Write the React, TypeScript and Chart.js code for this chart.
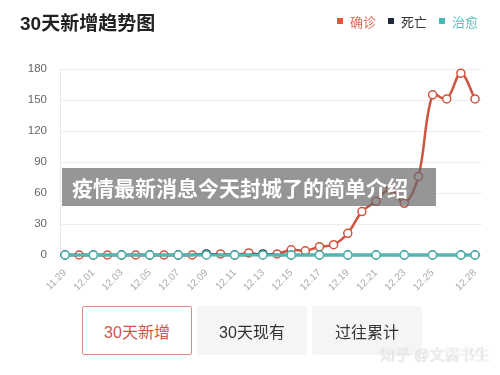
import React, { useEffect, useRef } from 'react';
import { Chart, registerables } from 'chart.js';

Chart.register(...registerables);

const dates = [
  '11.29', '11.30', '12.01', '12.02', '12.03', '12.04', '12.05', '12.06', '12.07', '12.08',
  '12.09', '12.10', '12.11', '12.12', '12.13', '12.14', '12.15', '12.16', '12.17', '12.18',
  '12.19', '12.20', '12.21', '12.22', '12.23', '12.24', '12.25', '12.26', '12.27', '12.28',
];
const shownDates = ['11.29', '12.01', '12.03', '12.05', '12.07', '12.09', '12.11', '12.13', '12.15', '12.17', '12.19', '12.21', '12.23', '12.25', '12.28'];
const confirmed = [0, 0, 0, 0, 0, 0, 0, 0, 0, 0, 0, 1, 0, 2, 0, 1, 5, 4, 8, 10, 21, 42, 52, 64, 50, 76, 155, 151, 176, 151];
const deaths = [0, 0, 0, 0, 0, 0, 0, 0, 0, 0, 1, 0, 0, 0, 1, 0, 0, 0, 0, 0, 0, 0, 0, 0, 0, 0, 0, 0, 0, 0];
const cured = [0, 0, 0, 0, 0, 0, 0, 0, 0, 0, 0, 0, 0, 0, 0, 0, 0, 0, 0, 0, 0, 0, 0, 0, 0, 0, 0, 0, 0, 0];
const yTicks = [0, 30, 60, 90, 120, 150, 180];
const legendItems = [
  { name: '确诊', box: '#e0553b', text: '#d76a58' },
  { name: '死亡', box: '#1d2b3a', text: '#333333' },
  { name: '治愈', box: '#47b9b3', text: '#62c0bd' },
];
const buttons = ['30天新增', '30天现有', '过往累计'];

const RED = '#cf5440';
const DARK = '#1d2b3a';
const TEAL = '#4bbab4';
const FONT = '"Liberation Sans", "Noto Sans CJK SC", sans-serif';

export default function App() {
  const ref = useRef<HTMLCanvasElement | null>(null);

  useEffect(() => {
    if (!ref.current) return;
    const sparse = (i: number) => (i % 2 === 0 || i === dates.length - 1 ? 4 : 0);
    const chart = new Chart(ref.current, {
      type: 'line',
      data: {
        datasets: [
          {
            label: '确诊',
            data: confirmed.map((y, i) => ({ x: i, y })),
            borderColor: RED,
            borderWidth: 2.5,
            pointRadius: 4,
            pointBorderWidth: 1.5,
            pointBackgroundColor: '#ffffff',
            pointBorderColor: RED,
            tension: 0.35,
            clip: false as any,
            order: 2,
          },
          {
            label: '死亡',
            data: deaths.map((y, i) => ({ x: i, y })),
            borderColor: DARK,
            borderWidth: 2.5,
            pointRadius: dates.map((_, i) => sparse(i)),
            pointBorderWidth: 1.5,
            pointBackgroundColor: '#ffffff',
            pointBorderColor: DARK,
            tension: 0.35,
            clip: false as any,
            order: 1,
          },
          {
            label: '治愈',
            data: cured.map((y, i) => ({ x: i, y })),
            borderColor: TEAL,
            borderWidth: 3,
            pointRadius: dates.map((_, i) => sparse(i)),
            pointBorderWidth: 1.5,
            pointBackgroundColor: '#ffffff',
            pointBorderColor: TEAL,
            tension: 0.35,
            clip: false as any,
            order: 0,
          },
        ],
      },
      options: {
        responsive: false,
        animation: false,
        layout: { padding: { left: 0, top: 69, right: 18, bottom: 80 } },
        plugins: { legend: { display: false }, tooltip: { enabled: false } },
        scales: {
          x: {
            type: 'linear',
            min: -0.354,
            max: 29.495,
            afterBuildTicks: (s: any) => {
              s.ticks = dates.map((_, i) => ({ value: i }));
            },
            afterFit: (s: any) => {
              s.height = 40;
            },
            grid: { display: false },
            border: { display: false },
            ticks: {
              autoSkip: false,
              maxRotation: 45,
              minRotation: 45,
              padding: 4,
              color: '#aaaaaa',
              font: { family: FONT, size: 10 },
              callback: (v: any) => {
                const d = dates[Number(v)];
                return d && shownDates.includes(d) ? d : '';
              },
            },
          },
          y: {
            min: 0,
            max: 180,
            afterBuildTicks: (s: any) => {
              s.ticks = yTicks.map((v) => ({ value: v }));
            },
            afterFit: (s: any) => {
              s.width = 60;
            },
            grid: { color: '#eeeeee', drawTicks: false },
            border: { display: true, color: '#e8e8e8' },
            ticks: {
              padding: 13,
              color: '#666666',
              font: { family: FONT, size: 11.5 },
            },
          },
        },
      },
    });
    return () => chart.destroy();
  }, []);

  return (
    <div
      style={{
        position: 'fixed',
        left: 0,
        top: 0,
        width: 500,
        height: 375,
        background: '#ffffff',
        fontFamily: FONT,
        overflow: 'hidden',
      }}
    >
      <canvas ref={ref} width={500} height={375} style={{ position: 'absolute', left: 0, top: 0, width: 500, height: 375 }} />
      <div
        style={{
          position: 'absolute',
          left: 20,
          top: 12,
          fontSize: 19,
          fontWeight: 'bold',
          color: '#222222',
          lineHeight: '24px',
          whiteSpace: 'nowrap',
        }}
      >
        30天新增趋势图
      </div>
      <div style={{ position: 'absolute', left: 337, top: 12, display: 'flex', alignItems: 'center', height: 18, whiteSpace: 'nowrap' }}>
        {legendItems.map((it, k) => (
          <div key={it.name} style={{ display: 'flex', alignItems: 'center', marginRight: k < legendItems.length - 1 ? 12 : 0 }}>
            <span style={{ display: 'inline-block', width: 6, height: 6, background: it.box, marginRight: 7 }} />
            <span style={{ fontSize: 13, color: it.text }}>{it.name}</span>
          </div>
        ))}
      </div>
      <div
        style={{
          position: 'absolute',
          left: 62,
          top: 168,
          width: 374,
          height: 38,
          background: 'rgba(105,105,105,0.7)',
          color: '#ffffff',
          fontWeight: 'bold',
          fontSize: 21,
          lineHeight: '38px',
          paddingLeft: 10,
          boxSizing: 'border-box',
          whiteSpace: 'nowrap',
          fontFamily: '"Noto Sans CJK SC", sans-serif',
        }}
      >
        疫情最新消息今天封城了的简单介绍
      </div>
      {buttons.map((b, k) => (
        <div
          key={b}
          style={{
            position: 'absolute',
            left: 82 + k * 115,
            top: 306,
            width: 110,
            height: 49,
            boxSizing: 'border-box',
            border: k === 0 ? '1.5px solid #dc8a86' : 'none',
            borderRadius: 2,
            background: k === 0 ? '#ffffff' : '#f5f5f7',
            color: k === 0 ? '#d2574a' : '#333333',
            fontSize: 16,
            display: 'flex',
            alignItems: 'center',
            justifyContent: 'center',
            whiteSpace: 'nowrap',
          }}
        >
          {b}
        </div>
      ))}
      <div
        style={{
          position: 'absolute',
          left: 380,
          top: 344,
          fontSize: 15,
          color: '#f4f4f4',
          textShadow: '0 0 1px #aaa',
          whiteSpace: 'nowrap',
          lineHeight: '22px',
        }}
      >
        知乎 @文弱书生
      </div>
    </div>
  );
}
